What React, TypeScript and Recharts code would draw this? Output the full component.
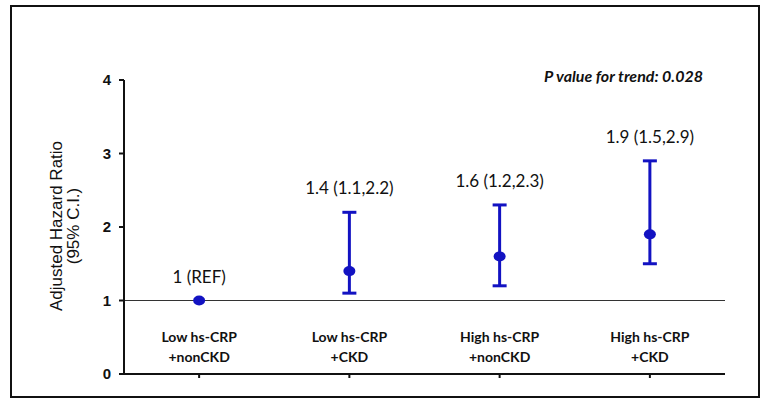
import {
  ComposedChart,
  ErrorBar,
  ReferenceLine,
  Scatter,
  XAxis,
  YAxis
} from "recharts";

const groups = ["Low hs-CRP|+nonCKD", "Low hs-CRP|+CKD", "High hs-CRP|+nonCKD", "High hs-CRP|+CKD"];
const hazardRatio = [1, 1.4, 1.6, 1.9];
const lowerCI: Array<number | null> = [null, 1.1, 1.2, 1.5];
const upperCI: Array<number | null> = [null, 2.2, 2.3, 2.9];
const pointLabels = ["1 (REF)", "1.4 (1.1,2.2)", "1.6 (1.2,2.3)", "1.9 (1.5,2.9)"];
const yTicks = [0, 1, 2, 3, 4];

const BLUE = "#1212c2";

const data = groups.map((name, i) => {
  const lo = lowerCI[i];
  const hi = upperCI[i];
  return {
    name,
    hr: hazardRatio[i],
    top: hi ?? hazardRatio[i],
    err: lo != null && hi != null ? [+(hazardRatio[i] - lo).toFixed(2), +(hi - hazardRatio[i]).toFixed(2)] : null,
    label: pointLabels[i]
  };
});

const CategoryTick = (props: any) => {
  const { x, y, payload } = props;
  const [l1, l2] = String(payload.value).split("|");
  return (
    <g>
      <text x={x} y={y - 36} textAnchor="middle" fontFamily="Lato, sans-serif" fontWeight={700} fontSize={14} fill="#111">
        {l1}
      </text>
      <text x={x} y={y - 16} textAnchor="middle" fontFamily="Lato, sans-serif" fontWeight={700} fontSize={14} fill="#111">
        {l2}
      </text>
    </g>
  );
};

const Dot = (props: any) => {
  const { cx, cy } = props;
  return <ellipse cx={cx} cy={cy} rx={6} ry={5} fill={BLUE} />;
};

const TopLabel = (props: any) => {
  const { cx, cy, payload } = props;
  return (
    <text x={cx} y={cy - 18} textAnchor="middle" fontFamily="Lato, sans-serif" fontSize={17} fill="#111">
      {payload.label}
    </text>
  );
};

const AxisTitle = () => (
  <g>
    <text
      transform="translate(62,226) rotate(-90)"
      textAnchor="middle"
      fontFamily="Liberation Sans, Arial, sans-serif"
      fontSize={17}
      fill="#111"
    >
      Adjusted Hazard Ratio
    </text>
    <text
      transform="translate(79,226) rotate(-90)"
      textAnchor="middle"
      fontFamily="Liberation Sans, Arial, sans-serif"
      fontSize={17}
      fill="#111"
    >
      (95% C.I.)
    </text>
  </g>
);

export default function App() {
  return (
    <div style={{ position: "absolute", left: 0, top: 0, width: 764, height: 403, background: "#fff" }}>
      <div
        style={{
          position: "absolute",
          left: 10,
          top: 5,
          width: 750,
          height: 393,
          border: "2px solid #111",
          boxSizing: "border-box"
        }}
      />
      <ComposedChart
        width={764}
        height={403}
        data={data}
        margin={{ top: 80, right: 39, bottom: 9, left: 0 }}
        style={{ position: "absolute", left: 0, top: 0 }}
      >
        <XAxis
          dataKey="name"
          type="category"
          scale="band"
          height={20}
          tick={<CategoryTick />}
          tickSize={4}
          tickMargin={0}
          interval={0}
          axisLine={{ stroke: "#111", strokeWidth: 2 }}
          tickLine={{ stroke: "#111", strokeWidth: 2 }}
        />
        <YAxis
          type="number"
          domain={[0, 4]}
          ticks={yTicks}
          width={124}
          tickSize={5}
          tickMargin={8}
          tick={{ fontSize: 15, fontWeight: 700, fill: "#111", fontFamily: "Liberation Sans, Arial, sans-serif" }}
          axisLine={{ stroke: "#111", strokeWidth: 2 }}
          tickLine={{ stroke: "#111", strokeWidth: 2 }}
          label={<AxisTitle />}
        />
        <ReferenceLine y={1} stroke="#333" strokeWidth={1} />
        <Scatter dataKey="hr" fill={BLUE} shape={<Dot />} isAnimationActive={false}>
          <ErrorBar dataKey="err" direction="y" width={7} stroke={BLUE} strokeWidth={3} />
        </Scatter>
        <Scatter dataKey="top" shape={<TopLabel />} isAnimationActive={false} />
        <text
          x={703}
          y={82}
          textAnchor="end"
          fontFamily="Lato, sans-serif"
          fontStyle="italic"
          fontWeight={700}
          fontSize={16}
          fill="#111"
        >
          P value for trend: 0.028
        </text>
      </ComposedChart>
    </div>
  );
}
